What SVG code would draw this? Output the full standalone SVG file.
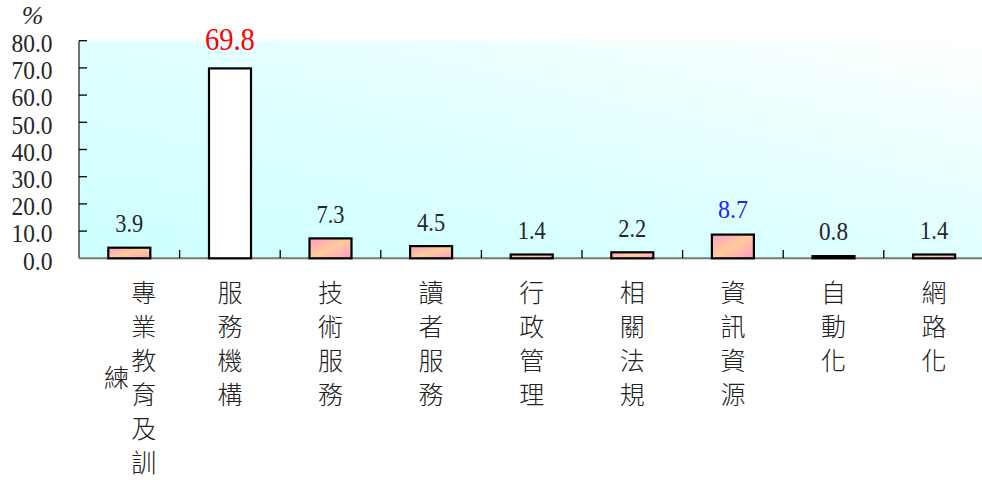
<svg xmlns="http://www.w3.org/2000/svg" width="982" height="480" viewBox="0 0 982 480">
  <style>
    text.num { font-family: "Liberation Serif", "Times New Roman", serif; font-size: 26px; font-weight: normal; fill: #262626; }
    text.ylab { text-anchor: end; }
    text.val { text-anchor: middle; }
    text.cat { font-family: "Noto Sans CJK TC", "Noto Sans CJK SC", sans-serif; font-size: 25px; font-weight: 300; fill: #222; text-anchor: middle; }
    .bar { fill: url(#barGrad); stroke: #000; stroke-width: 2.2; }
    .tick { stroke: #000; stroke-width: 1.3; }
  </style>
  <defs>
    <linearGradient id="bgGrad" x1="0" y1="1" x2="1" y2="0">
      <stop offset="0" stop-color="#ccffff"/>
      <stop offset="0.55" stop-color="#e2ffff"/>
      <stop offset="1" stop-color="#ffffff"/>
    </linearGradient>
    <linearGradient id="barGrad" x1="0" y1="0" x2="1" y2="1">
      <stop offset="0" stop-color="#ff99cc"/>
      <stop offset="0.5" stop-color="#ffcc99"/>
      <stop offset="1" stop-color="#ff99cc"/>
    </linearGradient>
  </defs>

  <rect width="982" height="480" fill="#ffffff"/>

  <g id="plot-area">
    <rect x="79" y="40.7" width="903" height="217.6" fill="url(#bgGrad)"/>
  </g>

  <g id="axes">
    <line x1="79" y1="40.7" x2="79" y2="258.3" stroke="#444" stroke-width="1.5"/>
    <line x1="79" y1="258.3" x2="982" y2="258.3" stroke="#777" stroke-width="2"/>
    <g class="tick">
      <line x1="79" y1="40.7" x2="87" y2="40.7"/>
      <line x1="79" y1="67.9" x2="87" y2="67.9"/>
      <line x1="79" y1="95.1" x2="87" y2="95.1"/>
      <line x1="79" y1="122.3" x2="87" y2="122.3"/>
      <line x1="79" y1="149.5" x2="87" y2="149.5"/>
      <line x1="79" y1="176.7" x2="87" y2="176.7"/>
      <line x1="79" y1="203.9" x2="87" y2="203.9"/>
      <line x1="79" y1="231.1" x2="87" y2="231.1"/>
      <line x1="179.6" y1="250" x2="179.6" y2="258"/>
      <line x1="280.2" y1="250" x2="280.2" y2="258"/>
      <line x1="380.8" y1="250" x2="380.8" y2="258"/>
      <line x1="481.4" y1="250" x2="481.4" y2="258"/>
      <line x1="582" y1="250" x2="582" y2="258"/>
      <line x1="682.6" y1="250" x2="682.6" y2="258"/>
      <line x1="783.2" y1="250" x2="783.2" y2="258"/>
      <line x1="883.8" y1="250" x2="883.8" y2="258"/>
    </g>
    <text x="32.5" y="24" class="num" font-family="Liberation Serif, serif" font-style="italic" font-size="21" text-anchor="middle">%</text>
    <text class="num ylab" font-family="Liberation Serif, serif" x="52.5" y="52" textLength="41" lengthAdjust="spacingAndGlyphs">80.0</text>
    <text class="num ylab" font-family="Liberation Serif, serif" x="52.5" y="79.2" textLength="41" lengthAdjust="spacingAndGlyphs">70.0</text>
    <text class="num ylab" font-family="Liberation Serif, serif" x="52.5" y="106.4" textLength="41" lengthAdjust="spacingAndGlyphs">60.0</text>
    <text class="num ylab" font-family="Liberation Serif, serif" x="52.5" y="133.6" textLength="41" lengthAdjust="spacingAndGlyphs">50.0</text>
    <text class="num ylab" font-family="Liberation Serif, serif" x="52.5" y="160.8" textLength="41" lengthAdjust="spacingAndGlyphs">40.0</text>
    <text class="num ylab" font-family="Liberation Serif, serif" x="52.5" y="188" textLength="41" lengthAdjust="spacingAndGlyphs">30.0</text>
    <text class="num ylab" font-family="Liberation Serif, serif" x="52.5" y="215.2" textLength="41" lengthAdjust="spacingAndGlyphs">20.0</text>
    <text class="num ylab" font-family="Liberation Serif, serif" x="52.5" y="242.4" textLength="41" lengthAdjust="spacingAndGlyphs">10.0</text>
    <text class="num ylab" font-family="Liberation Serif, serif" x="52.5" y="269.6" textLength="29.5" lengthAdjust="spacingAndGlyphs">0.0</text>
  </g>

  <g id="connectors"></g>

  <g id="cat1">
    <rect class="bar" x="108.3" y="247.7" width="42" height="10.6"/>
    <text class="num val" font-family="Liberation Serif, serif" x="129.3" y="232" textLength="28" lengthAdjust="spacingAndGlyphs">3.9</text>
    <text class="cat"><tspan x="143.7" y="302">專</tspan><tspan x="143.7" y="336">業</tspan><tspan x="143.7" y="370">教</tspan><tspan x="143.7" y="404">育</tspan><tspan x="143.7" y="438">及</tspan><tspan x="143.7" y="472">訓</tspan></text>
    <text class="cat" x="116.5" y="387">練</text>
  </g>

  <g id="cat2">
    <rect x="209" y="68.4" width="42" height="189.9" fill="#ffffff" stroke="#000" stroke-width="2.2"/>
    <text class="num val" font-family="Liberation Serif, serif" x="229.9" y="50" style="font-size:31px;fill:#ff0000" textLength="50" lengthAdjust="spacingAndGlyphs">69.8</text>
    <text class="cat"><tspan x="229.9" y="302">服</tspan><tspan x="229.9" y="336">務</tspan><tspan x="229.9" y="370">機</tspan><tspan x="229.9" y="404">構</tspan></text>
  </g>

  <g id="cat3">
    <rect class="bar" x="309.5" y="238.4" width="42" height="19.9"/>
    <text class="num val" font-family="Liberation Serif, serif" x="330.5" y="223" textLength="28" lengthAdjust="spacingAndGlyphs">7.3</text>
    <text class="cat"><tspan x="330.5" y="302">技</tspan><tspan x="330.5" y="336">術</tspan><tspan x="330.5" y="370">服</tspan><tspan x="330.5" y="404">務</tspan></text>
  </g>

  <g id="cat4">
    <rect class="bar" x="410.1" y="246.1" width="42" height="12.2"/>
    <text class="num val" font-family="Liberation Serif, serif" x="431.1" y="230.5" textLength="28" lengthAdjust="spacingAndGlyphs">4.5</text>
    <text class="cat"><tspan x="431.1" y="302">讀</tspan><tspan x="431.1" y="336">者</tspan><tspan x="431.1" y="370">服</tspan><tspan x="431.1" y="404">務</tspan></text>
  </g>

  <g id="cat5">
    <rect class="bar" x="510.7" y="254.5" width="42" height="3.8"/>
    <text class="num val" font-family="Liberation Serif, serif" x="531.7" y="239.3" textLength="28" lengthAdjust="spacingAndGlyphs">1.4</text>
    <text class="cat"><tspan x="531.7" y="302">行</tspan><tspan x="531.7" y="336">政</tspan><tspan x="531.7" y="370">管</tspan><tspan x="531.7" y="404">理</tspan></text>
  </g>

  <g id="cat6">
    <rect class="bar" x="611.3" y="252.3" width="42" height="6"/>
    <text class="num val" font-family="Liberation Serif, serif" x="632.3" y="237" textLength="28" lengthAdjust="spacingAndGlyphs">2.2</text>
    <text class="cat"><tspan x="632.3" y="302">相</tspan><tspan x="632.3" y="336">關</tspan><tspan x="632.3" y="370">法</tspan><tspan x="632.3" y="404">規</tspan></text>
  </g>

  <g id="cat7">
    <rect class="bar" x="711.9" y="234.6" width="42" height="23.7"/>
    <text class="num val" font-family="Liberation Serif, serif" x="732.9" y="218.3" style="fill:#2222ff" textLength="30" lengthAdjust="spacingAndGlyphs">8.7</text>
    <text class="cat"><tspan x="732.9" y="302">資</tspan><tspan x="732.9" y="336">訊</tspan><tspan x="732.9" y="370">資</tspan><tspan x="732.9" y="404">源</tspan></text>
  </g>

  <g id="cat8">
    <rect class="bar" x="812.5" y="256.1" width="42" height="2.2"/>
    <text class="num val" font-family="Liberation Serif, serif" x="833.5" y="240" textLength="29" lengthAdjust="spacingAndGlyphs">0.8</text>
    <text class="cat"><tspan x="833.5" y="302">自</tspan><tspan x="833.5" y="336">動</tspan><tspan x="833.5" y="370">化</tspan></text>
  </g>

  <g id="cat9">
    <rect class="bar" x="913.1" y="254.5" width="42" height="3.8"/>
    <text class="num val" font-family="Liberation Serif, serif" x="934.1" y="239.3" textLength="28" lengthAdjust="spacingAndGlyphs">1.4</text>
    <text class="cat"><tspan x="934.1" y="302">網</tspan><tspan x="934.1" y="336">路</tspan><tspan x="934.1" y="370">化</tspan></text>
  </g>
</svg>
